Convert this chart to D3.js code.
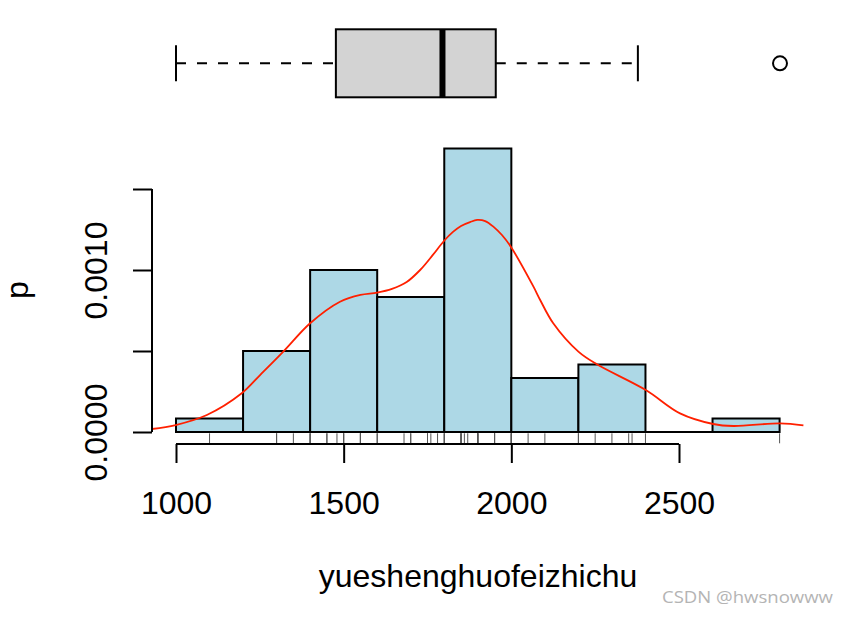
<!DOCTYPE html>
<html>
<head>
<meta charset="utf-8">
<script src="https://cdn.jsdelivr.net/npm/d3@7"></script>
<style>
  html, body { margin: 0; padding: 0; background: #fff; }
  svg { display: block; }
  text { font-family: "Liberation Sans", Arial, Helvetica, sans-serif; fill: #000; }
</style>
</head>
<body>
<svg id="chart" width="854" height="618"></svg>
<script>
// ---------- data ----------
const values = [
  1100,
  1300, 1300, 1350, 1400, 1400, 1400,
  1450, 1450, 1480, 1500, 1500, 1500, 1550, 1550, 1550, 1550, 1600, 1600,
  1680, 1700, 1700, 1750, 1750, 1760, 1780, 1800, 1800, 1800,
  1850, 1850, 1850, 1850, 1860, 1870, 1900, 1900, 1900, 1900, 1900,
  1950, 1950, 1950, 1950, 2000, 2000, 2000, 2000, 2000, 2000,
  2050, 2100, 2200, 2200,
  2250, 2300, 2350, 2360, 2400,
  2800
];
const binStarts = [1000, 1200, 1400, 1600, 1800, 2000, 2200, 2400, 2600];
const binCounts = [1, 6, 12, 10, 21, 4, 5, 0, 1];
const binWidth = 200;

// boxplot statistics: min whisker, lower hinge, median, upper hinge, max whisker
const boxStats = [1100, 1550, 1850, 2000, 2400];
const boxOutliers = [2800];

// density curve
const densX = [928, 999, 1092, 1196, 1250, 1320, 1400, 1489, 1550, 1600, 1644, 1688, 1728, 1766, 1799, 1826, 1850, 1877, 1898, 1922, 1948, 1972, 1999, 2066, 2086, 2125, 2200, 2255, 2401, 2503, 2602, 2662, 2801, 2871];
const densY = [0.0000185, 0.0000432, 0.000105, 0.000239, 0.00035, 0.000496, 0.000671, 0.000804, 0.000846, 0.00086, 0.000883, 0.000926, 0.001, 0.001093, 0.001179, 0.001235, 0.001272, 0.001296, 0.001309, 0.001302, 0.001265, 0.001216, 0.001142, 0.000897, 0.000815, 0.000671, 0.000496, 0.000418, 0.000259, 0.000115, 0.0000494, 0.000037, 0.0000537, 0.0000414];

const xTicks = [1000, 1500, 2000, 2500];
const yTicks = [0, 0.0005, 0.0010, 0.0015];
const yTickLabels = ["0.0000", "", "0.0010", ""];
const xLabel = "yueshenghuofeizhichu";
const yLabel = "p";
const watermark = "CSDN @hwsnowww";

// ---------- drawing ----------
const svg = d3.select("#chart");
const n = d3.sum(binCounts);

const x = d3.scaleLinear().domain([1000, 2500]).range([176, 679]);
const y = d3.scaleLinear().domain([0, 0.0015]).range([432, 189]);
const plotLeft = 152, plotRight = 804, plotTop = 137, plotBottom = 443.3;

svg.append("defs").append("clipPath").attr("id", "plotClip")
  .append("rect").attr("x", plotLeft).attr("y", plotTop)
  .attr("width", plotRight - plotLeft).attr("height", plotBottom - plotTop);

// histogram bars
const bins = binStarts.map((s, i) => ({ x0: s, x1: s + binWidth, d: binCounts[i] / (n * binWidth) }));
svg.append("g").selectAll("rect").data(bins.filter(b => b.d > 0)).join("rect")
  .attr("x", d => x(d.x0)).attr("width", d => x(d.x1) - x(d.x0))
  .attr("y", d => y(d.d)).attr("height", d => y(0) - y(d.d))
  .attr("fill", "#ADD8E6").attr("stroke", "#000").attr("stroke-width", 2);
// baseline across empty bin
svg.append("line")
  .attr("x1", x(binStarts[0])).attr("x2", x(binStarts[binStarts.length - 1] + binWidth))
  .attr("y1", y(0)).attr("y2", y(0)).attr("stroke", "#000").attr("stroke-width", 2);

// density line
const line = d3.line().x((d, i) => x(densX[i])).y((d, i) => y(densY[i])).curve(d3.curveCatmullRom);
svg.append("path").datum(densX).attr("d", line)
  .attr("clip-path", "url(#plotClip)")
  .attr("fill", "none").attr("stroke", "#FF2000").attr("stroke-width", 1.8);

// rug
const rugLen = 10;
svg.append("g").selectAll("line").data(values).join("line")
  .attr("x1", d => x(d)).attr("x2", d => x(d))
  .attr("y1", plotBottom).attr("y2", plotBottom - rugLen)
  .attr("stroke", "#555").attr("stroke-width", 1);

// x axis
const xAxis = d3.axisBottom(x).tickValues(xTicks).tickSize(19).tickPadding(0).tickFormat(d3.format("d"));
const gx = svg.append("g").attr("transform", `translate(0,${plotBottom + 0.7})`).call(xAxis);
gx.select(".domain").attr("d", `M${x(xTicks[0])},0H${x(xTicks[xTicks.length - 1])}`).attr("stroke-width", 2);
gx.selectAll(".tick line").attr("stroke-width", 2);
gx.selectAll(".tick text").attr("font-size", 32).attr("dy", null).attr("y", 70)
  .style("font-family", '"Liberation Sans", Arial, sans-serif');

// y axis
const yAxis = d3.axisLeft(y).tickValues(yTicks).tickSize(19).tickFormat((d, i) => yTickLabels[i]);
const gy = svg.append("g").attr("transform", `translate(${plotLeft},0)`).call(yAxis);
gy.select(".domain").attr("d", `M0,${y(yTicks[0])}V${y(yTicks[yTicks.length - 1])}`).attr("stroke-width", 2);
gy.selectAll(".tick line").attr("stroke-width", 2);
gy.selectAll(".tick text")
  .attr("font-size", 32).attr("x", null).attr("dy", null).attr("y", null)
  .attr("text-anchor", "middle")
  .attr("transform", "translate(-45,0) rotate(-90)")
  .style("font-family", '"Liberation Sans", Arial, sans-serif');

// axis titles
svg.append("text").attr("x", 478).attr("y", 587).attr("text-anchor", "middle")
  .attr("font-size", 32).text(xLabel);
svg.append("text").attr("transform", "translate(28,290) rotate(-90)").attr("text-anchor", "middle")
  .attr("font-size", 32).text(yLabel);

// boxplot
const bx = d3.scaleLinear().domain([boxStats[0], boxOutliers[0]]).range([176, 780]);
const bCy = 63.3, bHalf = 34, capHalf = 18;
const gb = svg.append("g");
gb.append("line").attr("x1", bx(boxStats[0])).attr("x2", bx(boxStats[1])).attr("y1", bCy).attr("y2", bCy)
  .attr("stroke", "#000").attr("stroke-width", 2).attr("stroke-dasharray", "10,11");
gb.append("line").attr("x1", bx(boxStats[3])).attr("x2", bx(boxStats[4])).attr("y1", bCy).attr("y2", bCy)
  .attr("stroke", "#000").attr("stroke-width", 2).attr("stroke-dasharray", "10,11");
[boxStats[0], boxStats[4]].forEach(v => {
  gb.append("line").attr("x1", bx(v)).attr("x2", bx(v)).attr("y1", bCy - capHalf).attr("y2", bCy + capHalf)
    .attr("stroke", "#000").attr("stroke-width", 2);
});
gb.append("rect").attr("x", bx(boxStats[1])).attr("width", bx(boxStats[3]) - bx(boxStats[1]))
  .attr("y", bCy - bHalf).attr("height", 2 * bHalf)
  .attr("fill", "#D3D3D3").attr("stroke", "#000").attr("stroke-width", 2);
gb.append("line").attr("x1", bx(boxStats[2])).attr("x2", bx(boxStats[2]))
  .attr("y1", bCy - bHalf).attr("y2", bCy + bHalf).attr("stroke", "#000").attr("stroke-width", 6);
gb.selectAll("circle").data(boxOutliers).join("circle")
  .attr("cx", d => bx(d)).attr("cy", bCy).attr("r", 7)
  .attr("fill", "none").attr("stroke", "#000").attr("stroke-width", 2);

// watermark
svg.append("text").attr("x", 662).attr("y", 603).attr("font-size", 17)
  .attr("textLength", 171).attr("lengthAdjust", "spacingAndGlyphs")
  .style("font-family", '"Open Sans", "Noto Sans", sans-serif').style("fill", "#b4b4b4")
  .text(watermark);
</script>
</body>
</html>
